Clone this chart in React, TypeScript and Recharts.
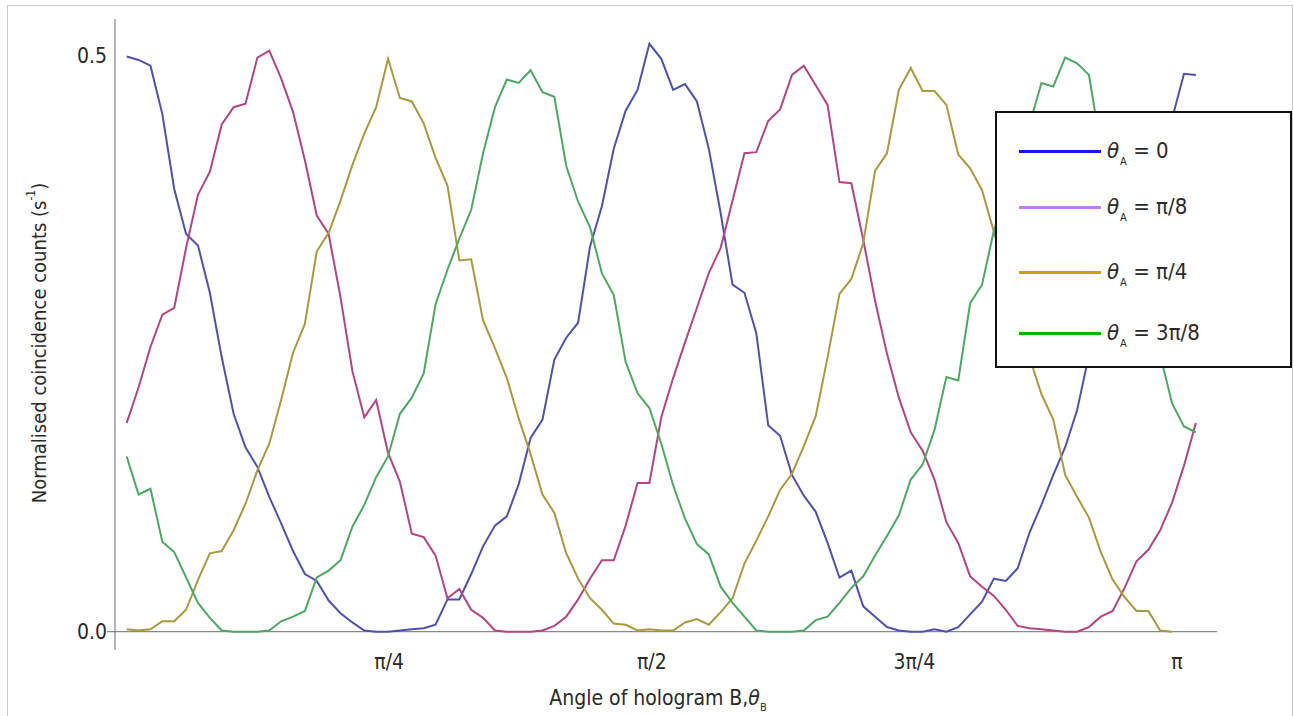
import React from "react";
import { LineChart, Line, XAxis, YAxis, ReferenceLine, Legend } from "recharts";

// Normalised coincidence counts, one value per hologram-B step (91 steps)
const blueTheta0 = [
  0.499, 0.496, 0.491, 0.449, 0.384, 0.345, 0.335, 0.294, 0.238, 0.189,
  0.160, 0.143, 0.117, 0.094, 0.070, 0.050, 0.044, 0.027, 0.016, 0.008,
  0.001, 0.000, 0.000, 0.001, 0.002, 0.003, 0.006, 0.028, 0.028, 0.050,
  0.074, 0.092, 0.100, 0.128, 0.168, 0.184, 0.236, 0.255, 0.268, 0.334,
  0.369, 0.419, 0.452, 0.470, 0.510, 0.497, 0.470, 0.475, 0.460, 0.419,
  0.363, 0.301, 0.294, 0.259, 0.179, 0.170, 0.136, 0.118, 0.104, 0.077,
  0.047, 0.053, 0.022, 0.013, 0.004, 0.001, 0.000, 0.000, 0.002, 0.000,
  0.004, 0.015, 0.026, 0.046, 0.044, 0.055, 0.086, 0.110, 0.136, 0.160,
  0.192, 0.240, 0.270, 0.300, 0.330, 0.360, 0.390, 0.420, 0.445, 0.484,
  0.483,
];
const pinkThetaPi8 = [
  0.181, 0.212, 0.247, 0.275, 0.281, 0.333, 0.379, 0.399, 0.440, 0.455,
  0.458, 0.498, 0.504, 0.480, 0.451, 0.409, 0.361, 0.345, 0.290, 0.226,
  0.186, 0.201, 0.155, 0.130, 0.085, 0.082, 0.066, 0.029, 0.037, 0.019,
  0.012, 0.001, 0.000, 0.000, 0.000, 0.001, 0.005, 0.013, 0.028, 0.046,
  0.062, 0.062, 0.092, 0.129, 0.129, 0.186, 0.220, 0.251, 0.281, 0.311,
  0.333, 0.374, 0.415, 0.416, 0.443, 0.453, 0.483, 0.491, 0.474, 0.457,
  0.390, 0.389, 0.340, 0.287, 0.241, 0.203, 0.173, 0.157, 0.132, 0.095,
  0.077, 0.048, 0.039, 0.031, 0.019, 0.005, 0.003, 0.002, 0.001, 0.000,
  0.000, 0.004, 0.013, 0.018, 0.038, 0.061, 0.071, 0.088, 0.112, 0.144,
  0.181,
];
const oliveThetaPi4 = [
  0.002, 0.001, 0.002, 0.009, 0.009, 0.019, 0.045, 0.068, 0.070, 0.088,
  0.111, 0.140, 0.163, 0.201, 0.242, 0.267, 0.330, 0.346, 0.374, 0.405,
  0.432, 0.455, 0.497, 0.463, 0.460, 0.441, 0.411, 0.387, 0.322, 0.323,
  0.270, 0.246, 0.220, 0.185, 0.154, 0.119, 0.103, 0.068, 0.046, 0.029,
  0.019, 0.007, 0.006, 0.001, 0.002, 0.001, 0.001, 0.008, 0.011, 0.006,
  0.017, 0.029, 0.059, 0.079, 0.100, 0.123, 0.137, 0.161, 0.187, 0.238,
  0.293, 0.306, 0.337, 0.400, 0.415, 0.470, 0.489, 0.469, 0.469, 0.457,
  0.414, 0.402, 0.383, 0.347, 0.310, 0.275, 0.238, 0.206, 0.184, 0.136,
  0.117, 0.099, 0.069, 0.045, 0.030, 0.018, 0.018, 0.001, 0.000, null,
  null,
];
const greenTheta3Pi8 = [
  0.152, 0.119, 0.124, 0.078, 0.069, 0.047, 0.025, 0.012, 0.001, 0.000,
  0.000, 0.000, 0.001, 0.009, 0.013, 0.018, 0.047, 0.053, 0.062, 0.091,
  0.110, 0.134, 0.152, 0.189, 0.203, 0.224, 0.284, 0.314, 0.341, 0.366,
  0.415, 0.455, 0.479, 0.476, 0.487, 0.468, 0.464, 0.404, 0.373, 0.351,
  0.311, 0.292, 0.234, 0.207, 0.194, 0.163, 0.127, 0.098, 0.076, 0.067,
  0.039, 0.025, 0.013, 0.001, 0.000, 0.000, 0.000, 0.001, 0.010, 0.013,
  0.025, 0.038, 0.048, 0.066, 0.083, 0.101, 0.132, 0.145, 0.175, 0.221,
  0.218, 0.285, 0.301, 0.348, 0.380, 0.410, 0.440, 0.476, 0.473, 0.498,
  0.493, 0.483, 0.420, 0.380, 0.340, 0.300, 0.270, 0.240, 0.198, 0.178,
  0.173,
];

// hologram B angle step (radians) between successive measurements
const angleStep = Math.PI / 88.4;

const xTickValues = [Math.PI / 4, Math.PI / 2, (3 * Math.PI) / 4, Math.PI];
const xTickLabels = ["π/4", "π/2", "3π/4", "π"];
const yTickValues = [0, 0.5];

const legendLabels = ["0", "π/8", "π/4", "3π/8"];
const legendColors = ["#1818ee", "#c07cf0", "#c9a400", "#00b400"];
const lineColors = ["#5050b0", "#b3457f", "#a9993f", "#4ea864"];
const seriesKeys = ["b0", "b1", "b2", "b3"];

const data = blueTheta0.map((v, i) => ({
  theta: i * angleStep,
  b0: v,
  b1: pinkThetaPi8[i],
  b2: oliveThetaPi4[i],
  b3: greenTheta3Pi8[i],
}));

const FONT = "'Liberation Sans Narrow', 'Arial Narrow', 'DejaVu Sans Condensed', sans-serif";
const TEXT = "#2a2a2a";

const X_DOMAIN: [number, number] = [-0.035, 3.2617];
const Y_DOMAIN: [number, number] = [-0.0159, 0.5315];

const legendRowCenters = [38, 94, 159, 220];

const LegendBox = () => (
  <div
    style={{
      position: "relative",
      width: 297,
      height: 257,
      boxSizing: "border-box",
      border: "2px solid #111",
      background: "#fff",
      fontFamily: FONT,
      color: TEXT,
    }}
  >
    {legendLabels.map((lab, i) => (
      <div key={lab} style={{ position: "absolute", left: 22, top: legendRowCenters[i] - 14, height: 28, width: 270 }}>
        <div
          style={{
            position: "absolute",
            left: 0,
            top: 12.5,
            width: 82,
            height: 3,
            background: legendColors[i],
          }}
        />
        <div style={{ position: "absolute", left: 88, top: 0, fontSize: 22, lineHeight: "28px", whiteSpace: "nowrap" }}>
          <span style={{ fontStyle: "italic" }}>θ</span>
          <span style={{ fontSize: 11, position: "relative", top: 7, marginLeft: 1 }}>A</span>
          <span> = {lab}</span>
        </div>
      </div>
    ))}
  </div>
);

const YLabel = () => (
  <text
    transform="translate(39,343) rotate(-90)"
    textAnchor="middle"
    dominantBaseline="central"
    fontFamily={FONT}
    fontSize={20}
    fill={TEXT}
  >
    Normalised coincidence counts (s
    <tspan fontSize={12} dy={-8}>-1</tspan>
    <tspan dy={8}>)</tspan>
  </text>
);

const XLabel = () => (
  <text x={658} y={705} textAnchor="middle" fontFamily={FONT} fontSize={21} fill={TEXT}>
    Angle of hologram B,
    <tspan fontStyle="italic">θ</tspan>
    <tspan fontSize={11} dy={6}>B</tspan>
  </text>
);

export default function App() {
  return (
    <div style={{ position: "absolute", left: 0, top: 0, width: 1293, height: 716, background: "#fff", overflow: "hidden" }}>
      <div
        style={{
          position: "absolute",
          left: 7,
          top: 5,
          width: 1286,
          height: 730,
          boxSizing: "border-box",
          border: "1.5px solid #c9c9c9",
        }}
      />
      <div style={{ position: "absolute", left: 0, top: 0 }}>
        <LineChart width={1293} height={716} data={data} margin={{ top: 19, right: 76, bottom: 0, left: 0 }}>
          <XAxis
            dataKey="theta"
            type="number"
            domain={X_DOMAIN}
            allowDataOverflow
            ticks={xTickValues}
            interval={0}
            tickFormatter={(v: number) => xTickLabels[xTickValues.findIndex((t) => Math.abs(t - v) < 1e-6)] ?? ""}
            axisLine={false}
            tickLine={false}
            tickSize={0}
            tickMargin={4}
            height={66}
            tick={{ fontFamily: FONT, fontSize: 21, fill: TEXT }}
            label={{ content: () => <XLabel /> }}
          />
          <YAxis
            type="number"
            domain={Y_DOMAIN}
            allowDataOverflow
            ticks={yTickValues}
            interval={0}
            tickFormatter={(v: number) => v.toFixed(1)}
            width={115}
            tickLine={false}
            tickSize={0}
            tickMargin={8}
            axisLine={{ stroke: "#6a6a6a", strokeWidth: 1 }}
            tick={{ fontFamily: FONT, fontSize: 21, fill: TEXT }}
            label={{ content: () => <YLabel /> }}
          />
          <ReferenceLine
            segment={[
              { x: -0.059, y: 0 },
              { x: X_DOMAIN[1], y: 0 },
            ]}
            stroke="#8a8a8a"
            strokeWidth={1.2}
            ifOverflow="visible"
          />
          {seriesKeys.map((k, i) => (
            <Line
              key={k}
              dataKey={k}
              type="linear"
              stroke={lineColors[i]}
              strokeWidth={2}
              dot={false}
              activeDot={false}
              isAnimationActive={false}
              connectNulls={false}
            />
          ))}
          <Legend
            layout="vertical"
            align="center"
            verticalAlign="middle"
            content={() => <LegendBox />}
            wrapperStyle={{ left: 995, top: 111, width: 297, height: 257 }}
          />
        </LineChart>
      </div>
    </div>
  );
}
